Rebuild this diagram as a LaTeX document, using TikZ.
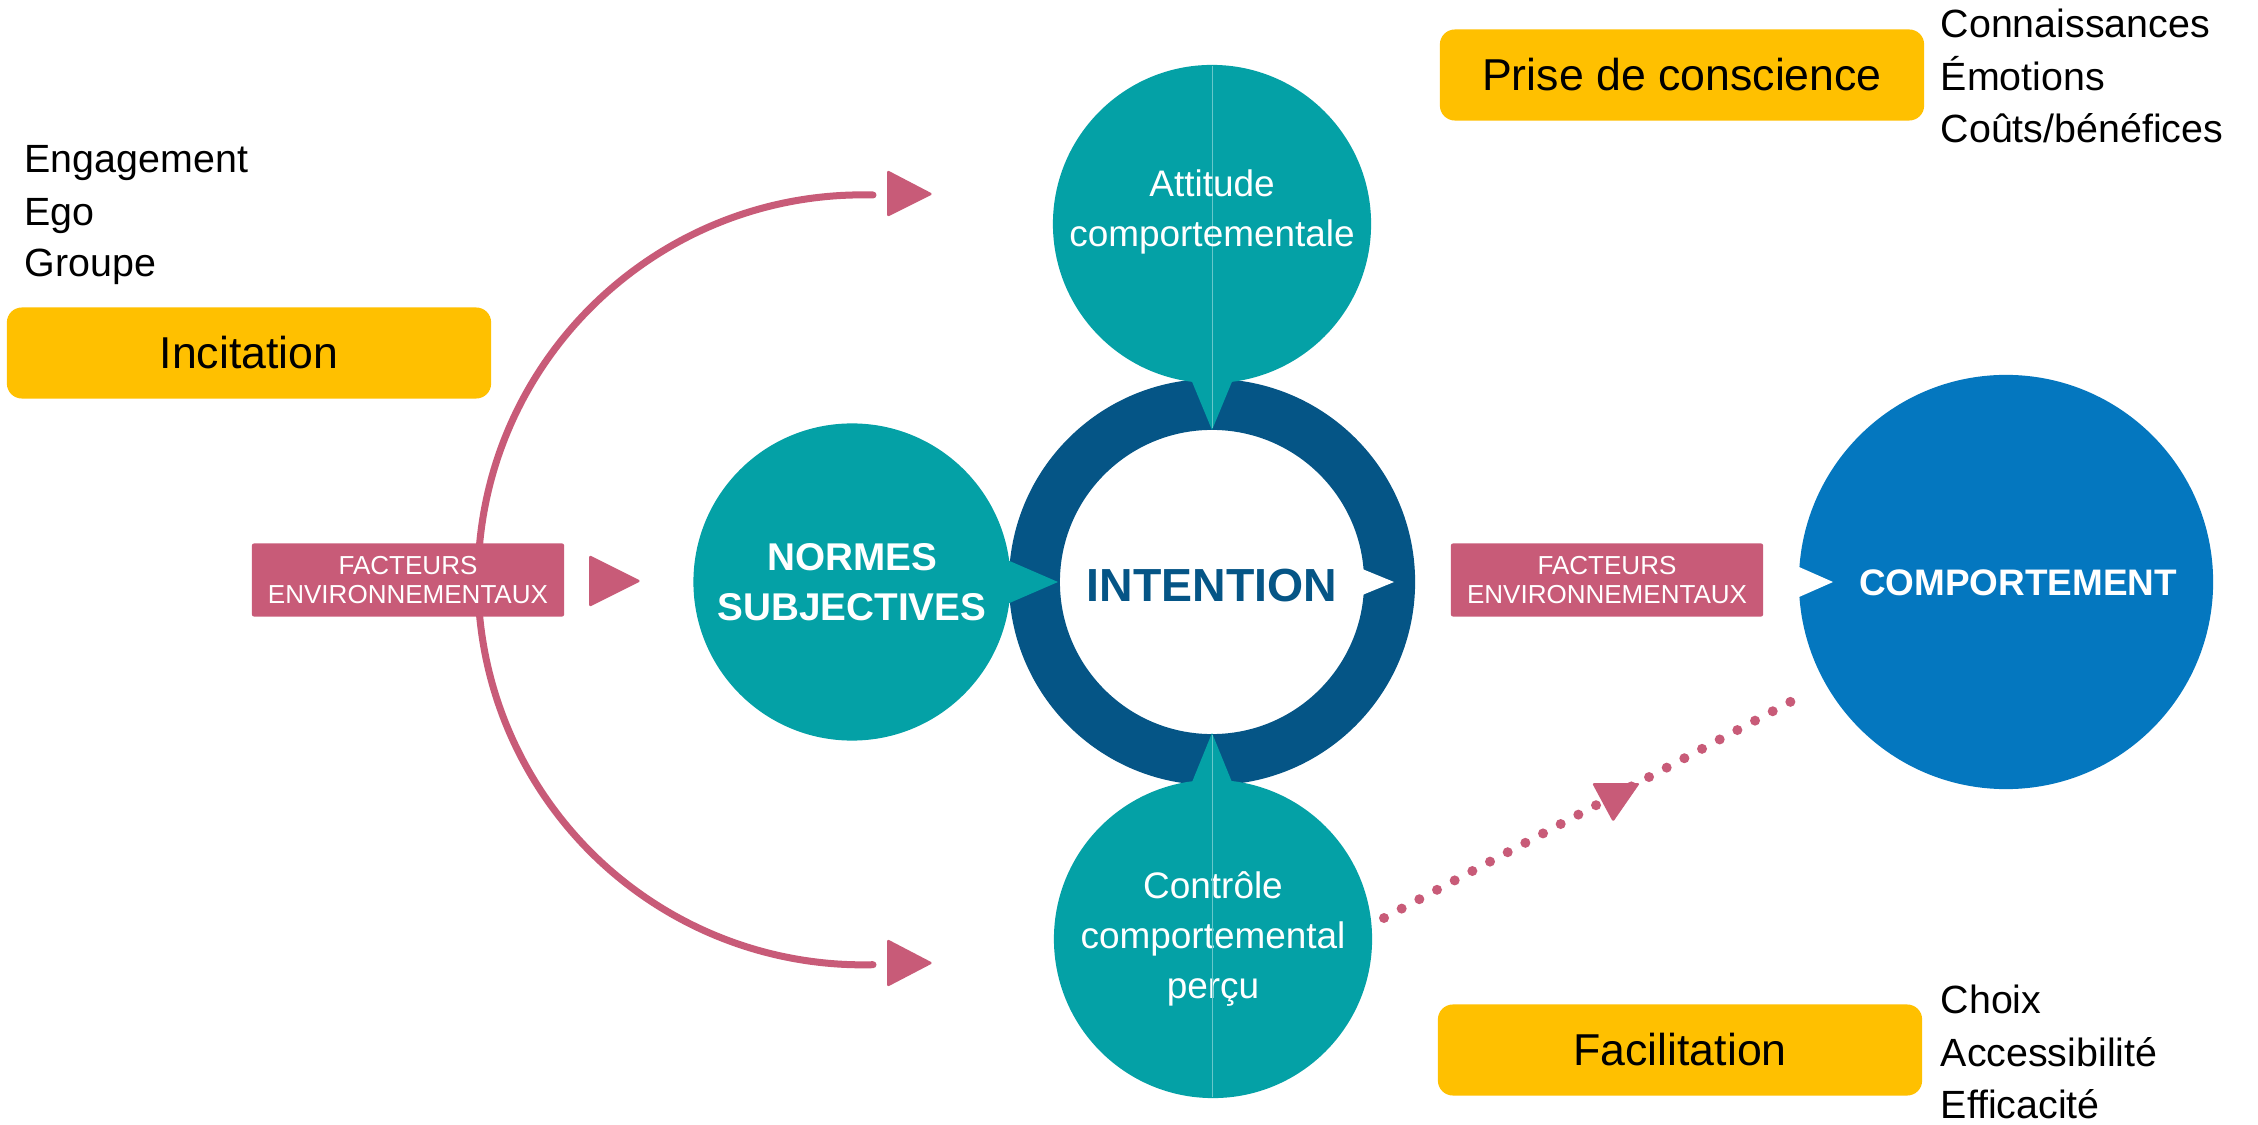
\documentclass[tikz,border=0pt]{standalone}
\usepackage{fontspec}
\setmainfont{Liberation Sans}
\usepackage{tikz}
\usetikzlibrary{positioning}

\definecolor{tealc}{HTML}{04A1A6}
\definecolor{ringc}{HTML}{055586}
\definecolor{compc}{HTML}{0477BF}
\definecolor{pinkc}{HTML}{C85B78}
\definecolor{yellowc}{HTML}{FFC000}

\tikzset{
  bubble/.style={circle, fill=tealc, inner sep=0pt, text=white, align=center, font=\fontsize{10.5}{14.2}\selectfont},
  yellowtag/.style={rectangle, rounded corners=0.15cm, fill=yellowc, minimum width=4.84cm, minimum height=0.91cm, font=\fontsize{12.7}{15}\selectfont},
  factor/.style={rectangle, rounded corners=0.02cm, fill=pinkc, minimum width=3.12cm, minimum height=0.73cm, inner sep=0pt, text=white, align=center, font=\fontsize{7.4}{8}\selectfont},
  listitem/.style={anchor=base west, inner sep=0pt, font=\fontsize{11.2}{13}\selectfont},
  arrowtri/.style={fill=pinkc, rounded corners=0.5pt},
}

\begin{document}
\begin{tikzpicture}[x=0.01cm, y=-0.01cm]
		\fill[white] (0,0) rectangle (2258,1125);
		\useasboundingbox (0,0) rectangle (2258,1125);

		\coordinate (arctop) at (873,195);
		\coordinate (arcbot) at (873,965);
		\draw[pinkc, line width=0.07cm, line cap=round] (arctop) arc[start angle=-88.5, end angle=-271.5, radius=385];
		\fill[arrowtri] (887,170) -- (933,194) -- (887,217) -- cycle;
		\fill[arrowtri] (887,939) -- (933,963) -- (887,987) -- cycle;

		\node[circle, draw=ringc, line width=0.51cm, minimum size=3.55cm, inner sep=0pt] (intent) at (1212,582) {};
		\node[bubble, minimum size=3.18cm] (att) at (1212,224) {};
		\node[bubble, minimum size=3.17cm, font=\bfseries\fontsize{11}{14.2}\selectfont] (norm) at (852,582) {NORMES\\SUBJECTIVES};
		\node[bubble, minimum size=3.18cm] (ctrl) at (1213,939) {Contrôle\\comportemental\\perçu};
		\node[circle, fill=compc, minimum size=4.14cm, inner sep=0pt] (comp) at (2006,582) {};

		\fill[tealc] (1188,372) -- (1236,372) -- (1212,430) -- cycle;
		\fill[tealc] (1188,792) -- (1236,792) -- (1212,733) -- cycle;
		\fill[tealc] (998,556) -- (998,608) -- (1058,582) -- cycle;
		\fill[white] (1355,566) -- (1394,582) -- (1355,598) -- cycle;
		\fill[white] (1790,563) -- (1833,582) -- (1790,601) -- cycle;
		\draw[tealc!60!white, line width=0.01cm] (1212,66) -- (1212,428);
		\draw[tealc!60!white, line width=0.01cm] (1212,735) -- (1212,1097);

		\node[text=ringc, font=\bfseries\fontsize{13.2}{15}\selectfont] (intentT) at (1212,586) {INTENTION};
		\node[text=white, align=center, font=\fontsize{10.5}{14.2}\selectfont] (attT) at (1212,212) {Attitude\\comportementale};
		\node[text=white, font=\bfseries\fontsize{10.5}{13}\selectfont] (compT) at (2018,583) {COMPORTEMENT};

		\node[factor] (envL) at (408,580) {FACTEURS\\ENVIRONNEMENTAUX};
		\fill[arrowtri] (589,555) -- (641,581) -- (589,607) -- cycle;
		\node[factor] (envR) at (1607,580) {FACTEURS\\ENVIRONNEMENTAUX};

		\coordinate (dotA) at (1384,918);
		\coordinate (dotB) at (1807,693);
		\draw[pinkc, line width=0.1cm, line cap=round, dash pattern=on 0pt off 0.2cm] (dotA) -- (dotB);
		\fill[arrowtri] (1592,783) -- (1640,783) -- (1613,822) -- cycle;

		\node[yellowtag] (incit) at (249,353) {Incitation};
		\node[listitem] (eng) at (24,173) {Engagement};
		\node[listitem] (ego) at (24,226) {Ego};
		\node[listitem] (grp) at (24,277) {Groupe};

		\node[yellowtag] (prise) at (1682,75) {Prise de conscience};
		\node[listitem] (conn) at (1940,38) {Connaissances};
		\node[listitem] (emo) at (1940,91) {Émotions};
		\node[listitem] (cout) at (1940,143) {Coûts/bénéfices};

		\node[yellowtag] (facil) at (1680,1050) {Facilitation};
		\node[listitem] (choix) at (1940,1013) {Choix};
		\node[listitem] (acc) at (1940,1066) {Accessibilité};
		\node[listitem] (eff) at (1940,1118) {Efficacité};
\end{tikzpicture}
\end{document}
